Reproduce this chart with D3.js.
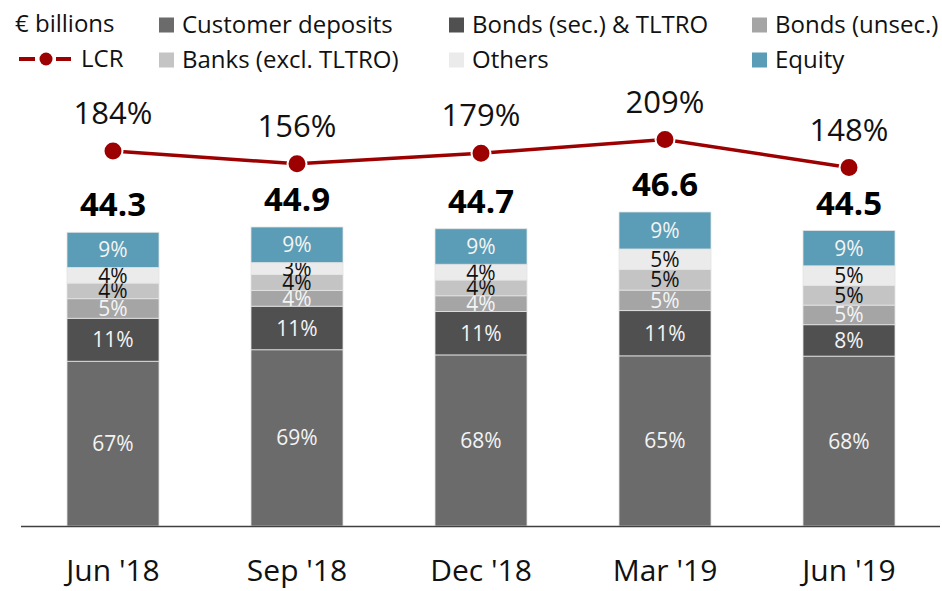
<!DOCTYPE html>
<html>
<head>
<meta charset="utf-8">
<script src="https://cdn.jsdelivr.net/npm/d3@7"></script>
<style>
	body { margin: 0; background: #fff; }
	text { font-family: 'Open Sans', 'Noto Sans', sans-serif; }
</style>
</head>
<body>
<svg id="chart" width="942" height="591"></svg>
<script>
var quarters = ['Jun \'18', 'Sep \'18', 'Dec \'18', 'Mar \'19', 'Jun \'19'];
var totals = [44.3, 44.9, 44.7, 46.6, 44.5];
var lcr = [184, 156, 179, 209, 148];

// shares of the total, in %, bottom to top
var customer_deposits = [67, 69, 68, 65, 68];
var bonds_sec = [11, 11, 11, 11, 8];
var bonds_unsec = [5, 4, 4, 5, 5];
var banks = [4, 4, 4, 5, 5];
var others = [4, 3, 4, 5, 5];
var equity = [9, 9, 9, 9, 9];

var series_names = ['Customer deposits', 'Bonds (sec.) & TLTRO', 'Bonds (unsec.)', 'Banks (excl. TLTRO)', 'Others', 'Equity'];
var series_vals = [customer_deposits, bonds_sec, bonds_unsec, banks, others, equity];
var series_cols = ['#6b6b6b', '#505050', '#a5a5a5', '#c4c4c4', '#ebebeb', '#5b9cb6'];
var label_cols = ['#f4f4f4', '#f4f4f4', '#f4f4f4', '#111', '#111', '#f4f4f4'];
var lcr_col = '#9c0000';

var svg = d3.select('#chart');

var x_scale = d3.scaleBand().domain(quarters).range([21, 941]).paddingInner(0.5).paddingOuter(0.25);
var y_scale = d3.scaleLinear().domain([11, 46.6]).range([526, 212]).clamp(true);
var lcr_scale = d3.scaleLinear().domain([148, 209]).range([167.5, 139.5]);

// build stack rows: amounts in € bn
var rows = quarters.map(function(q, i)  {
	var r = {q: q};
	series_names.forEach(function(s, k)  { r[s] = series_vals[k][i] * totals[i] / 100; });
	return r;
});
var stacked = d3.stack().keys(series_names)(rows);

var layers = svg.selectAll('.layer').data(stacked).enter().append('g').attr('class', 'layer');
layers.selectAll('rect').data(function(d)  { return d.map(function(p)  { p.k = d.index; return p; }); })
	.enter().append('rect')
	.attr('x', d => x_scale(d.data.q)).attr('width', x_scale.bandwidth())
	.attr('y', d => y_scale(d[1])).attr('height', d => y_scale(d[0]) - y_scale(d[1]))
	.attr('fill', d => series_cols[d.k])
	.attr('stroke', '#e4e4e4').attr('stroke-width', 0.8);

layers.selectAll('text').data(function(d)  { return d; })
	.enter().append('text')
	.attr('x', d => x_scale(d.data.q) + x_scale.bandwidth()/2)
	.attr('y', d => (y_scale(d[0]) + y_scale(d[1]))/2)
	.attr('dy', '0.36em')
	.attr('text-anchor', 'middle').attr('font-size', 21)
	.attr('fill', d => label_cols[d.k])
	.text(d => series_vals[d.k][quarters.indexOf(d.data.q)] + '%');

// totals above bars
svg.selectAll('.total').data(quarters).enter().append('text').attr('class', 'total')
	.attr('x', d => x_scale(d) + x_scale.bandwidth()/2)
	.attr('y', (d, i) => y_scale(totals[i]) - 16)
	.attr('text-anchor', 'middle').attr('font-size', 33).attr('font-weight', 'bold')
	.text((d, i) => totals[i].toFixed(1));

// baseline
svg.append('line').attr('x1', 21).attr('x2', 940).attr('y1', 526.5).attr('y2', 526.5)
	.attr('stroke', '#404040').attr('stroke-width', 1.5);

// x axis labels
var x_axis = svg.append('g').attr('transform', 'translate(0,526)')
	.call(d3.axisBottom(x_scale).tickSize(0).tickPadding(34));
x_axis.select('.domain').remove();
x_axis.selectAll('text').attr('font-size', 30).attr('fill', '#111')
	.style('font-family', '\'Open Sans\', sans-serif');

// LCR line
var lcr_pts = quarters.map((q, i) => [x_scale(q) + x_scale.bandwidth()/2, lcr_scale(lcr[i])]);
svg.append('path').attr('d', d3.line()(lcr_pts))
	.attr('fill', 'none').attr('stroke', lcr_col).attr('stroke-width', 3.5);
svg.selectAll('.lcrdot').data(lcr_pts).enter().append('circle').attr('class', 'lcrdot')
	.attr('cx', d => d[0]).attr('cy', d => d[1]).attr('r', 9.5)
	.attr('fill', lcr_col).attr('stroke', '#fff').attr('stroke-width', 2);
svg.selectAll('.lcrlab').data(lcr_pts).enter().append('text').attr('class', 'lcrlab')
	.attr('x', d => d[0]).attr('y', d => d[1] - 27)
	.attr('text-anchor', 'middle').attr('font-size', 31).attr('fill', '#111')
	.text((d, i) => lcr[i] + '%');

// legend
svg.append('text').attr('x', 15).attr('y', 32).attr('font-size', 24).attr('fill', '#111').text('€ billions');
var leg_x = [159, 449, 752];
var leg_y = [25, 60];
var leg_order = [0, 1, 2, 3, 4, 5];
var leg_pos = [[0,0],[1,0],[2,0],[0,1],[1,1],[2,1]];
var leg = svg.selectAll('.leg').data(leg_order).enter().append('g').attr('class', 'leg')
	.attr('transform', (d, i) => 'translate(' + leg_x[leg_pos[i][0]] + ',' + leg_y[leg_pos[i][1]] + ')');
leg.append('rect').attr('x', 0).attr('y', -7.5).attr('width', 15).attr('height', 15)
	.attr('fill', d => series_cols[d]);
leg.append('text').attr('x', 23).attr('y', 0).attr('dy', '0.35em').attr('font-size', 24).attr('fill', '#111')
	.text(d => series_names[d]);

var lcr_leg = svg.append('g').attr('transform', 'translate(0,59)');
lcr_leg.append('line').attr('x1', 19).attr('x2', 35).attr('y1', 0).attr('y2', 0).attr('stroke', lcr_col).attr('stroke-width', 4);
lcr_leg.append('line').attr('x1', 56).attr('x2', 71).attr('y1', 0).attr('y2', 0).attr('stroke', lcr_col).attr('stroke-width', 4);
lcr_leg.append('circle').attr('cx', 46).attr('cy', 0).attr('r', 6.5).attr('fill', lcr_col);
lcr_leg.append('text').attr('x', 81).attr('y', 0).attr('dy', '0.35em').attr('font-size', 24).attr('fill', '#111').text('LCR');
</script>
</body>
</html>
